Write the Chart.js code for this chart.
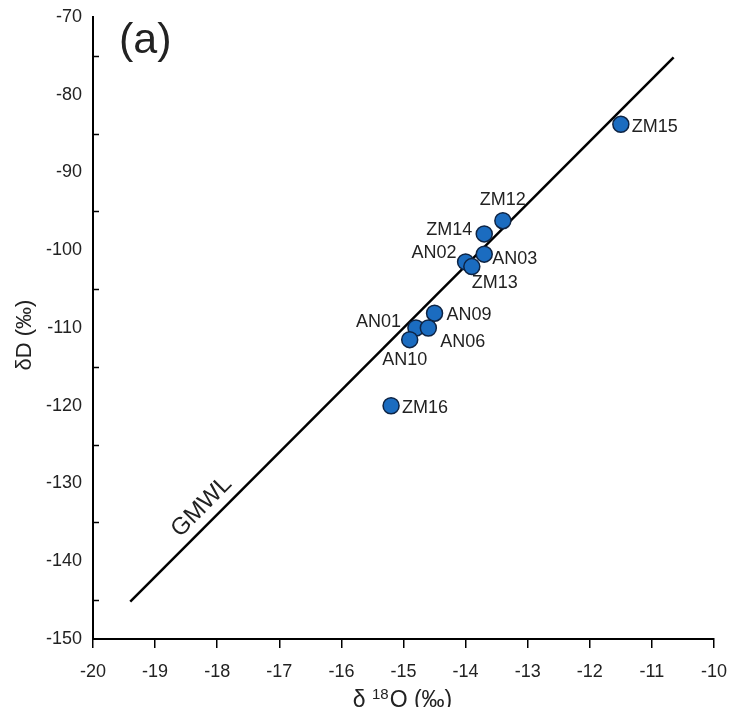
<!DOCTYPE html>
<html><head><meta charset="utf-8">
<script src="https://cdn.jsdelivr.net/npm/chart.js@4/dist/chart.umd.min.js"></script>
<style>html,body{margin:0;padding:0;background:#fff;} canvas{display:block;}</style>
</head><body>
<canvas id="c" width="731" height="707"></canvas>
<script>
// ---- data ----
const sampleNames = ['ZM15','ZM12','ZM14','AN03','AN02','ZM13','AN09','AN01','AN06','AN10','ZM16'];
const d18O = [-11.5, -13.4, -13.7, -13.7, -14.0, -13.9, -14.5, -14.8, -14.6, -14.9, -15.2];
const dD   = [-83.8, -96.2, -97.9, -100.5, -101.5, -102.1, -108.1, -110.0, -110.0, -111.5, -120.0];
const gmwlX = [-19.4, -10.65];
const gmwlY = [-145.2, -75.2];
const gmwlLabel = 'GMWL';
const panelLabel = '(a)';
const xTicks = [-20, -19, -18, -17, -16, -15, -14, -13, -12, -11, -10];
const yTicks = [-150, -140, -130, -120, -110, -100, -90, -80, -70];
const yMinorTicks = [-145, -135, -125, -115, -105, -95, -85, -75];

// ---- label placement (styling, not data) ----
const labelPlacement = {
  ZM15: {align: 'left',   dx: 11,  dy: 3},
  ZM12: {align: 'center', dx: 0,   dy: -21},
  ZM14: {align: 'right',  dx: -12, dy: -4},
  AN03: {align: 'left',   dx: 8,   dy: 5},
  AN02: {align: 'right',  dx: -9,  dy: -9},
  ZM13: {align: 'left',   dx: 0,   dy: 16},
  AN09: {align: 'left',   dx: 12,  dy: 2},
  AN01: {align: 'right',  dx: -15, dy: -6},
  AN06: {align: 'left',   dx: 12,  dy: 14},
  AN10: {align: 'center', dx: -5,  dy: 20},
  ZM16: {align: 'left',   dx: 11,  dy: 2}
};

const FONT = '"Liberation Sans", Arial, Helvetica, sans-serif';
const TXT = '#222';

const points = d18O.map((x, i) => ({x: x, y: dD[i]}));
const gmwl = gmwlX.map((x, i) => ({x: x, y: gmwlY[i]}));

const annotate = {
  id: 'annotate',
  afterDatasetsDraw(chart) {
    const ctx = chart.ctx;
    const xs = chart.scales.x, ys = chart.scales.y;
    const area = chart.chartArea;
    ctx.save();
    // inward minor ticks on y axis
    ctx.strokeStyle = '#000';
    ctx.lineWidth = 1.5;
    yMinorTicks.forEach(v => {
      const py = Math.round(ys.getPixelForValue(v)) + 0.5;
      ctx.beginPath();
      ctx.moveTo(area.left, py);
      ctx.lineTo(area.left + 6, py);
      ctx.stroke();
    });
    // point labels
    ctx.fillStyle = TXT;
    ctx.font = '18px ' + FONT;
    ctx.textBaseline = 'middle';
    const meta = chart.getDatasetMeta(0);
    meta.data.forEach((el, i) => {
      const p = labelPlacement[sampleNames[i]];
      ctx.textAlign = p.align;
      ctx.fillText(sampleNames[i], el.x + p.dx, el.y + p.dy);
    });
    // panel label
    ctx.textAlign = 'left';
    ctx.font = '43px ' + FONT;
    ctx.fillText(panelLabel, area.left + 26, area.top + 24);
    // GMWL label along the line
    const gx = xs.getPixelForValue(-18.25), gy = ys.getPixelForValue(-133.0);
    const ang = Math.atan2(ys.getPixelForValue(gmwlY[1]) - ys.getPixelForValue(gmwlY[0]),
                           xs.getPixelForValue(gmwlX[1]) - xs.getPixelForValue(gmwlX[0]));
    ctx.save();
    ctx.translate(gx, gy);
    ctx.rotate(ang);
    ctx.font = '24px ' + FONT;
    ctx.textAlign = 'center';
    ctx.textBaseline = 'middle';
    ctx.fillText(gmwlLabel, 0, 0);
    ctx.restore();
    // y axis title
    ctx.save();
    ctx.translate(25, 335);
    ctx.rotate(-Math.PI / 2);
    ctx.font = '22px ' + FONT;
    ctx.textAlign = 'center';
    ctx.textBaseline = 'middle';
    ctx.fillText('\u03b4D (\u2030)', 0, 0);
    ctx.restore();
    // x axis title: δ 18O (‰) with superscript
    const base = 707;
    ctx.textAlign = 'left';
    ctx.textBaseline = 'alphabetic';
    const partA = '\u03b4 ', sup = '18', partB = 'O (\u2030)';
    ctx.font = '23px ' + FONT;
    const wA = ctx.measureText(partA).width, wB = ctx.measureText(partB).width;
    ctx.font = '15px ' + FONT;
    const wS = ctx.measureText(sup).width;
    let x0 = 402 - (wA + wS + wB) / 2;
    ctx.font = '23px ' + FONT;
    ctx.fillText(partA, x0, base);
    ctx.font = '15px ' + FONT;
    ctx.fillText(sup, x0 + wA, base - 8);
    ctx.font = '23px ' + FONT;
    ctx.fillText(partB, x0 + wA + wS + 1, base);
    ctx.restore();
  }
};

new Chart(document.getElementById('c'), {
  type: 'scatter',
  data: {
    datasets: [
      {
        data: points,
        backgroundColor: '#1b6cc0',
        borderColor: '#0e2444',
        borderWidth: 1.5,
        pointRadius: 8,
        pointHoverRadius: 8
      },
      {
        data: gmwl,
        showLine: true,
        borderColor: '#000',
        borderWidth: 2.5,
        pointRadius: 0,
        fill: false
      }
    ]
  },
  options: {
    responsive: false,
    devicePixelRatio: 1,
    animation: false,
    layout: {padding: {top: 17, right: 17, left: 0, bottom: 0}},
    plugins: {legend: {display: false}, tooltip: {enabled: false}},
    scales: {
      x: {
        type: 'linear',
        min: -20, max: -10,
        afterBuildTicks: s => { s.ticks = xTicks.map(v => ({value: v})); },
        afterFit: s => { s.height = 68; s.paddingLeft = 0; s.paddingRight = 0; },
        grid: {drawOnChartArea: false, drawTicks: true, tickLength: 9, color: '#000', lineWidth: 1.5},
        border: {display: true, color: '#000', width: 2},
        ticks: {color: TXT, font: {family: FONT, size: 18}, padding: 13, maxRotation: 0, autoSkip: false,
                callback: v => String(v)}
      },
      y: {
        type: 'linear',
        min: -150, max: -70,
        afterBuildTicks: s => { s.ticks = yTicks.map(v => ({value: v})); },
        afterFit: s => { s.width = 93; s.paddingTop = 0; s.paddingBottom = 0; },
        grid: {drawOnChartArea: false, drawTicks: false},
        border: {display: true, color: '#000', width: 2},
        ticks: {color: TXT, font: {family: FONT, size: 18}, padding: 11, autoSkip: false,
                callback: v => String(v)}
      }
    }
  },
  plugins: [annotate]
});
</script>
</body></html>
